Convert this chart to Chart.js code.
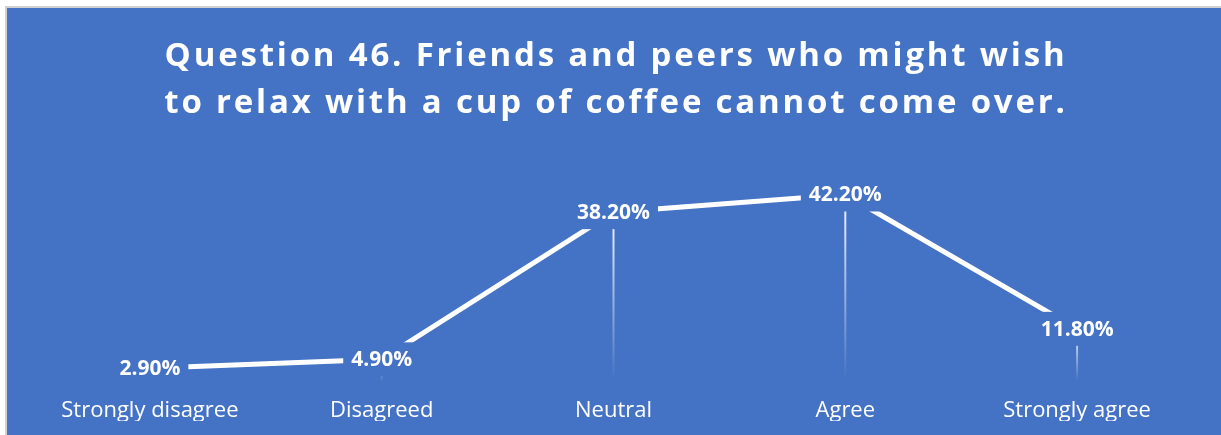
<!DOCTYPE html>
<html>
<head>
<meta charset="utf-8">
<script src="https://cdn.jsdelivr.net/npm/chart.js@4/dist/chart.umd.min.js"></script>
<style>
  html, body { margin: 0; padding: 0; background: #fff; }
  #wrap { width: 1221px; height: 435px; }
</style>
</head>
<body>
<div id="wrap"><canvas id="myChart"></canvas></div>
<script>
const titleLines = ["Question 46. Friends and peers who might wish", "to relax with a cup of coffee cannot come over."];
const answers = ["Strongly disagree", "Disagreed", "Neutral", "Agree", "Strongly agree"];
const shares = [2.9, 4.9, 38.2, 42.2, 11.8];

const blue = "#4472C4";

// panel background with the thin grey frame on the top and left
const panelBg = {
    id: 'panelBg',
    beforeDraw(chart) {
        const ctx = chart.ctx;
        ctx.save();
        ctx.fillStyle = "#ffffff";
        ctx.fillRect(0, 0, chart.width, chart.height);
        ctx.fillStyle = "#d0d0d0";
        ctx.fillRect(5, 6, chart.width - 5, chart.height - 6);
        ctx.fillStyle = blue;
        ctx.fillRect(7, 8, chart.width - 7, chart.height - 8);
        ctx.restore();
    }
};

// spaced-out bold heading, two lines
const heading = {
    id: 'heading',
    afterDraw(chart) {
        const ctx = chart.ctx;
        ctx.save();
        ctx.font = "bold 33px 'Open Sans'";
        ctx.letterSpacing = "2.8px";
        ctx.fillStyle = "#ffffff";
        ctx.textAlign = "center";
        ctx.textBaseline = "alphabetic";
        const cx = (7 + chart.width) / 2 + 2;
        ctx.fillText(titleLines[0], cx, 66);
        ctx.fillText(titleLines[1], cx, 113);
        ctx.restore();
    }
};

// fading drop lines from each point down to the axis
const dropLines = {
    id: 'dropLines',
    beforeDatasetsDraw(chart) {
        const ctx = chart.ctx;
        const base = chart.scales.y.getPixelForValue(0);
        ctx.save();
        chart.getDatasetMeta(0).data.forEach(pt => {
            const g = ctx.createLinearGradient(0, pt.y, 0, base);
            g.addColorStop(0, "rgba(255,255,255,0.95)");
            g.addColorStop(1, "rgba(255,255,255,0)");
            ctx.strokeStyle = g;
            ctx.lineWidth = 2;
            ctx.beginPath();
            ctx.moveTo(pt.x, pt.y);
            ctx.lineTo(pt.x, base);
            ctx.stroke();
        });
        ctx.restore();
    }
};

// value labels sitting on the points, boxed in the background colour
const valueLabels = {
    id: 'valueLabels',
    afterDatasetsDraw(chart) {
        const ctx = chart.ctx;
        const ds = chart.data.datasets[0];
        ctx.save();
        ctx.font = "bold 21px 'Open Sans'";
        ctx.textAlign = "center";
        ctx.textBaseline = "middle";
        chart.getDatasetMeta(0).data.forEach((pt, i) => {
            const txt = ds.data[i].toFixed(2) + "%";
            const w = ctx.measureText(txt).width;
            ctx.fillStyle = blue;
            ctx.fillRect(pt.x - w / 2 - 8, pt.y - 17, w + 16, 34);
            ctx.fillStyle = "#ffffff";
            ctx.fillText(txt, pt.x, pt.y + 1);
        });
        ctx.restore();
    }
};

const ctx = document.getElementById('myChart');

new Chart(ctx, {
    type: 'line',
    data: {
        labels: answers,
        datasets: [
            {
                label: "Share",
                data: shares,
                borderColor: "#ffffff",
                borderWidth: 5,
                pointRadius: 0,
                tension: 0,
                fill: false
            }
        ]
    },
    options: {
        responsive: true,
        maintainAspectRatio: false,
        animation: false,
        layout: {
            padding: { top: 160, left: 34, right: 28, bottom: 14 }
        },
        plugins: {
            legend: { display: false },
            tooltip: { enabled: false },
            title: { display: false }
        },
        scales: {
            x: {
                offset: true,
                grid: { display: false, drawTicks: false },
                border: { display: false },
                afterFit(scale) { scale.height = 40; },
                ticks: {
                    color: "#ffffff",
                    padding: 17,
                    font: { family: "'Open Sans'", size: 22 }
                }
            },
            y: {
                display: false,
                min: 0,
                max: 50
            }
        }
    },
    plugins: [panelBg, dropLines, valueLabels, heading]
});
</script>
</body>
</html>
